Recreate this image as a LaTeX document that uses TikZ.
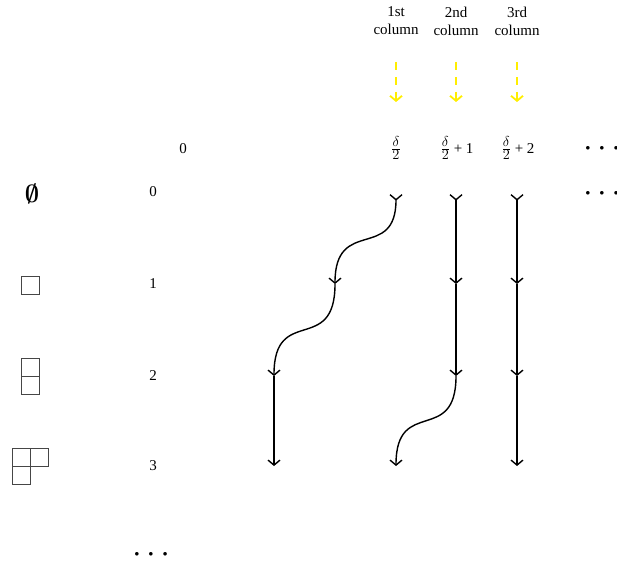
\documentclass[tikz,border=0pt]{standalone}
\usepackage{amsmath}
\usepackage{fontspec}
\setmainfont{Liberation Serif}
\usetikzlibrary{arrows.meta}
\definecolor{ylw}{RGB}{255,238,0}
\definecolor{boxgray}{RGB}{70,70,70}
\tikzset{
  lbl/.style={font=\fontsize{15}{18}\selectfont, inner sep=0pt, align=center},
  dotsnode/.style={font=\fontsize{9}{10}\selectfont, inner sep=0pt},
  strand/.style={line width=1.4pt, -{Straight Barb[length=5pt,width=12pt]}},
  startstrand/.style={line width=1.4pt, {Straight Barb[reversed,length=5pt,width=12pt]}-{Straight Barb[length=5pt,width=12pt]}},
  ydash/.style={ylw, line width=1.8pt, dash pattern=on 8pt off 7pt, -{Straight Barb[length=5pt,width=12pt]}},
  cell/.style={draw=boxgray, line width=0.9pt},
}
\newcommand{\mydots}{$\bullet\hspace{7.5pt}\bullet\hspace{7.5pt}\bullet$}
\newcommand{\hf}{{\fontsize{19}{20}\selectfont$\frac{\delta}{2}$}}
\begin{document}
\begin{tikzpicture}[x=1pt,y=-1pt]
\useasboundingbox (0,0) rectangle (617,564);

% column titles
\node[lbl] (t1) at (396,21) {1st\\column};
\node[lbl] (t2) at (456,21) {2nd\\column};
\node[lbl] (t3) at (517,21) {3rd\\column};

% yellow arrows
\coordinate (ya1) at (396,62); \coordinate (yb1) at (396,102);
\coordinate (ya2) at (456,62); \coordinate (yb2) at (456,102);
\coordinate (ya3) at (517,62); \coordinate (yb3) at (517,102);
\draw[ydash] (ya1) -- (yb1);
\draw[ydash] (ya2) -- (yb2);
\draw[ydash] (ya3) -- (yb3);

% header row
\node[lbl] (h0) at (183,149) {0};
\node[lbl] (h1) at (396,148) {\hf};
\node[lbl] (h2) at (457,148) {\hf\ + 1};
\node[lbl] (h3) at (518,148) {\hf\ + 2};
\node[dotsnode] (hd) at (602,148) {\mydots};
\node[dotsnode] (rd) at (602,193) {\mydots};

% row labels
\node[lbl] (r0) at (153,192) {0};
\node[lbl] (r1) at (153,284) {1};
\node[lbl] (r2) at (153,376) {2};
\node[lbl] (r3) at (153,466) {3};
\node[dotsnode] (bd) at (151,554) {\mydots};

% partitions
\node[inner sep=0pt, font=\fontsize{25}{28}\selectfont] (p0) at (32,194) {$\boldsymbol{\emptyset}$};
\draw[cell] (21,276) rectangle (39,294);
\draw[cell] (21,358) rectangle (39,376);
\draw[cell] (21,376) rectangle (39,394);
\draw[cell] (12,448) rectangle (30,466);
\draw[cell] (30,448) rectangle (48,466);
\draw[cell] (12,466) rectangle (30,484);

% grid points
\coordinate (a3) at (396,194);
\coordinate (a4) at (456,194);
\coordinate (a5) at (517,194);
\coordinate (b2) at (335,284);
\coordinate (b4) at (456,284);
\coordinate (b5) at (517,284);
\coordinate (c1) at (274,376);
\coordinate (c4) at (456,376);
\coordinate (c5) at (517,376);
\coordinate (d1) at (274,466);
\coordinate (d3) at (396,466);
\coordinate (d5) at (517,466);

% strands
\draw[startstrand] (a3) .. controls +(0,68) and +(0,-68) .. (b2);
\draw[strand] (b2) .. controls +(0,72) and +(0,-72) .. (c1);
\draw[strand] (c1) -- (d1);

\draw[startstrand] (a4) -- (b4);
\draw[strand] (b4) -- (c4);
\draw[strand] (c4) .. controls +(0,70) and +(0,-70) .. (d3);

\draw[startstrand] (a5) -- (b5);
\draw[strand] (b5) -- (c5);
\draw[strand] (c5) -- (d5);
\end{tikzpicture}
\end{document}
